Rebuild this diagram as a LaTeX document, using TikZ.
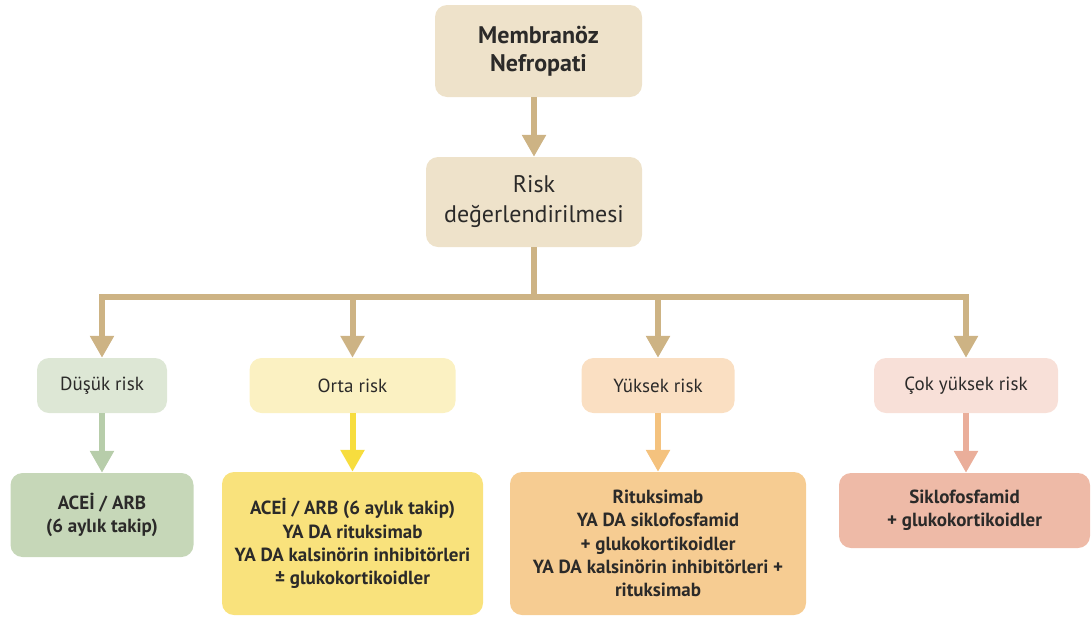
\documentclass[tikz,border=0pt]{standalone}
\usepackage{fontspec}
\setmainfont{PT Sans}
\usetikzlibrary{arrows.meta}
\definecolor{txt}{HTML}{2B2A29}
\definecolor{topfill}{HTML}{EEE2CA}
\definecolor{conncol}{HTML}{CDB384}
\definecolor{dA}{HTML}{DDE7D5}
\definecolor{dArr}{HTML}{B7CDAA}
\definecolor{dB}{HTML}{C6D7B8}
\definecolor{oA}{HTML}{FBF1C2}
\definecolor{oArr}{HTML}{F7DD3E}
\definecolor{oB}{HTML}{F9E27C}
\definecolor{yA}{HTML}{FADFC2}
\definecolor{yArr}{HTML}{F4C27E}
\definecolor{yB}{HTML}{F6CC92}
\definecolor{cA}{HTML}{F8E0D8}
\definecolor{cArr}{HTML}{EAAE9A}
\definecolor{cB}{HTML}{EEBAA7}
\begin{document}
\begin{tikzpicture}[x=1pt,y=-1pt,
  box/.style={rounded corners=12pt, align=center, inner sep=0pt, text=txt},
  bigbold/.style={box, font=\fontsize{24}{28}\selectfont\bfseries},
  bigreg/.style={box, font=\fontsize{24}{30}\selectfont},
  riskbox/.style={box, font=\fontsize{19}{23}\selectfont, minimum height=55pt},
  treatbox/.style={box, font=\fontsize{19}{23.3}\selectfont\bfseries},
  conn/.style={line width=6pt, draw=#1, -{Triangle[width=23pt,length=22pt]}},
  plainline/.style={line width=6pt, draw=conncol}
]
\useasboundingbox (0,0) rectangle (1092,619);

\node[bigbold, fill=topfill, minimum width=207pt, minimum height=92pt] (top) at (538.5,51) {Membranöz\\Nefropati};
\node[bigreg, fill=topfill, minimum width=216pt, minimum height=90pt] (risk) at (534,202) {Risk\\değerlendirilmesi};

\node[riskbox, fill=dA, minimum width=130pt] (dusuk) at (102,385.5) {Düşük risk};
\node[riskbox, fill=oA, minimum width=206pt] (orta) at (352.5,385.5) {Orta risk};
\node[riskbox, fill=yA, minimum width=153pt] (yuksek) at (658,385.5) {Yüksek risk};
\node[riskbox, fill=cA, minimum width=184pt] (cok) at (966,385.5) {Çok yüksek risk};

\node[treatbox, fill=dB, minimum width=183pt, minimum height=84pt] (tdusuk) at (102,515) {ACEİ / ARB\\(6 aylık takip)};
\node[treatbox, fill=oB, minimum width=261pt, minimum height=143pt] (torta) at (352.5,543.5) {ACEİ / ARB (6 aylık takip)\\YA DA rituksimab\\YA DA kalsinörin inhibitörleri\\± glukokortikoidler};
\node[treatbox, fill=yB, minimum width=296pt, minimum height=143pt] (tyuksek) at (658,543.5) {Rituksimab\\YA DA siklofosfamid\\+ glukokortikoidler\\YA DA kalsinörin inhibitörleri +\\rituksimab};
\node[treatbox, fill=cB, minimum width=251pt, minimum height=75pt] (tcok) at (964.5,510.5) {Siklofosfamid\\+ glukokortikoidler};

\coordinate (hub) at (534,297);

\draw[conn=conncol] (top.south -| risk.center) -- (risk.north);
\draw[plainline] (risk.south) -- (hub);
\draw[conn=conncol] (hub) -| (dusuk.north);
\draw[conn=conncol] (hub) -| (orta.north);
\draw[conn=conncol] (hub) -| (yuksek.north);
\draw[conn=conncol] (hub) -| (cok.north);

\draw[conn=dArr] (dusuk.south) -- (tdusuk.north);
\draw[conn=oArr] (orta.south) -- (torta.north);
\draw[conn=yArr] (yuksek.south) -- (tyuksek.north);
\draw[conn=cArr] (cok.south) -- (tcok.north -| cok.south);
\end{tikzpicture}
\end{document}
